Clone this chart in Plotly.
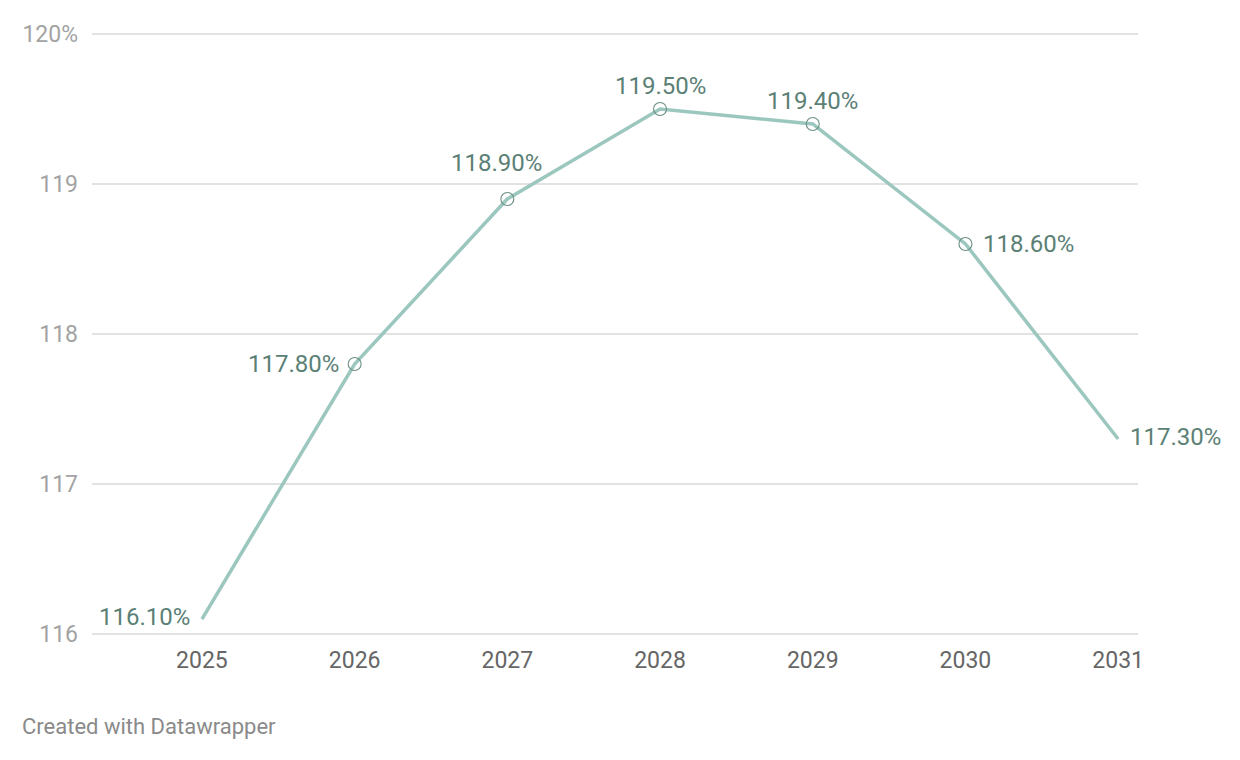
import plotly.graph_objects as go

years = [2025, 2026, 2027, 2028, 2029, 2030, 2031]
values = [116.1, 117.8, 118.9, 119.5, 119.4, 118.6, 117.3]
labels = ["116.10%", "117.80%", "118.90%", "119.50%", "119.40%", "118.60%", "117.30%"]
y_ticks = [116, 117, 118, 119, 120]
y_ticktext = ["116", "117", "118", "119", "120%"]

# label placement: (xanchor, xshift, yshift)
label_pos = [
    ("right", -10, 2),
    ("right", -14, 0),
    ("center", -11, 36),
    ("center", 0, 23),
    ("center", 0, 23),
    ("left", 16, 0),
    ("left", 10, 2),
]

LINE = "#9cc7bf"
TEXT = "#5b8076"

W, H = 1240, 760
L, R, T, B = 84, 110, 24, 132

fig = go.Figure()
for v in y_ticks:
    fig.add_shape(type="line", xref="paper", yref="y", x0=0, x1=1, y0=v, y1=v,
                  line=dict(color="#e2e2e2", width=2), layer="below")
fig.add_trace(go.Scatter(
    x=years, y=values, mode="lines",
    line=dict(color=LINE, width=3.5),
    hoverinfo="skip", showlegend=False, cliponaxis=False,
))
fig.add_trace(go.Scatter(
    x=years[1:-1], y=values[1:-1], mode="markers",
    marker=dict(symbol="circle-open", size=13, color="#6b8e84", line=dict(width=1.1)),
    hoverinfo="skip", showlegend=False,
))

annotations = []
for x, y, t, (xa, xs, ys) in zip(years, values, labels, label_pos):
    annotations.append(dict(
        x=x, y=y, text=t, showarrow=False, xanchor=xa, yanchor="middle",
        xshift=xs, yshift=ys, font=dict(family="Roboto", size=24, color=TEXT),
    ))

pw = W - L - R
ph = H - T - B
annotations.append(dict(
    x=(12 - L) / pw, y=(H - 718 - B) / ph, xref="paper", yref="paper",
    text="Created with Datawrapper",
    showarrow=False, xanchor="left", yanchor="middle",
    font=dict(family="Roboto", size=22, color="#8a8a8a"),
))

fig.update_layout(
    width=W, height=H,
    margin=dict(l=L, r=R, t=T, b=B),
    paper_bgcolor="white", plot_bgcolor="white",
    font=dict(family="Roboto"),
    xaxis=dict(
        range=[2024.28, 2031.13], tickvals=years, ticktext=[str(y) for y in years],
        showgrid=False, zeroline=False, showline=False, ticks="",
        tickfont=dict(size=23, color="#666666"), ticklabelstandoff=8,
    ),
    yaxis=dict(
        range=[115.987, 120.013], tickvals=y_ticks, ticktext=y_ticktext,
        showgrid=False, zeroline=False,
        showline=False, ticks="", tickfont=dict(size=23, color="#a3a3a3"),
        ticklabelstandoff=13,
    ),
    annotations=annotations,
)

fig.write_html("out.html")
